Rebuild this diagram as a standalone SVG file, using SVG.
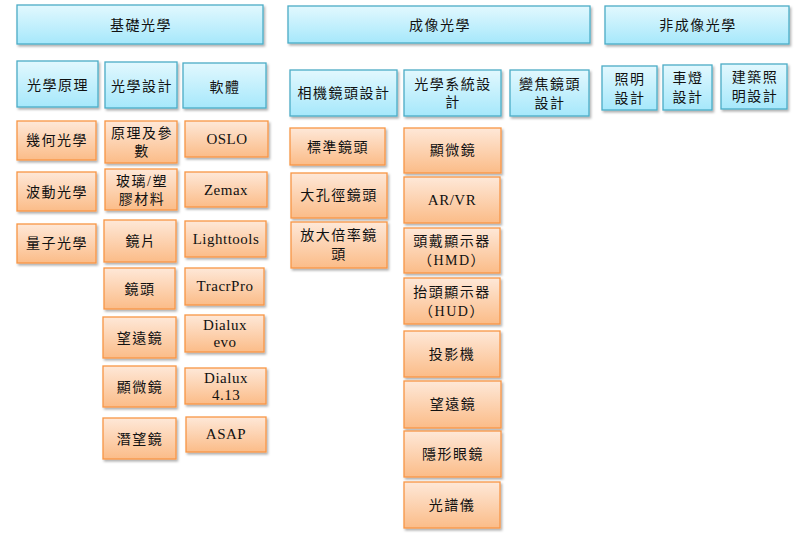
<svg xmlns="http://www.w3.org/2000/svg" width="800" height="549" viewBox="0 0 800 549">
<defs>
<linearGradient id="gb" x1="0" y1="0" x2="0" y2="1"><stop offset="0" stop-color="#e2f8fe"/><stop offset="1" stop-color="#a6e8fb"/></linearGradient>
<linearGradient id="go" x1="0" y1="0" x2="0" y2="1"><stop offset="0" stop-color="#fee8d8"/><stop offset="1" stop-color="#fbbc88"/></linearGradient>
<filter id="sh" x="-10%" y="-10%" width="130%" height="140%"><feDropShadow dx="1.5" dy="2" stdDeviation="1.2" flood-color="#000" flood-opacity="0.3"/></filter>
</defs>
<style>
.b{fill:url(#gb);stroke:#4bacc6;stroke-width:1.3;filter:url(#sh)}
.o{fill:url(#go);stroke:#f79646;stroke-width:1.3;filter:url(#sh)}
text{font-family:"Liberation Serif","Noto Sans CJK TC",serif;font-size:14px;fill:#111;text-anchor:middle;letter-spacing:1.5px}
.l{font-size:15px;letter-spacing:0.5px}
</style>
<rect width="800" height="549" fill="#fff"/>
<g id="connectors"/>
<!-- headers -->
<g id="h1"><rect class="b" x="17" y="5" width="246" height="39"/><text x="141" y="30">基礎光學</text></g>
<g id="h2"><rect class="b" x="288" y="6" width="302" height="37"/><text x="440" y="30">成像光學</text></g>
<g id="h3"><rect class="b" x="605" y="6" width="184" height="38"/><text x="698" y="30">非成像光學</text></g>
<!-- row 2 -->
<g id="n_principle"><rect class="b" x="17" y="61" width="81" height="46"/><text x="58" y="90">光學原理</text></g>
<g id="n_design"><rect class="b" x="105" y="62" width="72" height="46"/><text x="142" y="91">光學設計</text></g>
<g id="n_software"><rect class="b" x="183" y="63" width="83" height="45"/><text x="225" y="92">軟體</text></g>
<g id="n_camera"><rect class="b" x="290" y="70" width="107" height="46"/><text x="344" y="98">相機鏡頭設計</text></g>
<g id="n_system"><rect class="b" x="404" y="70" width="97" height="46"/><text x="453" y="89">光學系統設</text><text x="453" y="107">計</text></g>
<g id="n_zoom"><rect class="b" x="510" y="70" width="79" height="46"/><text x="550" y="89">變焦鏡頭</text><text x="550" y="108">設計</text></g>
<g id="n_light"><rect class="b" x="602" y="66" width="55" height="44"/><text x="630" y="84">照明</text><text x="630" y="103">設計</text></g>
<g id="n_car"><rect class="b" x="663" y="65" width="49" height="45"/><text x="688" y="83">車燈</text><text x="688" y="102">設計</text></g>
<g id="n_arch"><rect class="b" x="721" y="64" width="66" height="45"/><text x="755" y="82">建築照</text><text x="755" y="101">明設計</text></g>
<!-- col 1 -->
<g id="n_geo"><rect class="o" x="17" y="121" width="79" height="39"/><text x="57" y="145">幾何光學</text></g>
<g id="n_wave"><rect class="o" x="17" y="172" width="79" height="39"/><text x="57" y="197">波動光學</text></g>
<g id="n_quantum"><rect class="o" x="17" y="224" width="79" height="39"/><text x="57" y="248">量子光學</text></g>
<!-- col 2 -->
<g id="n_param"><rect class="o" x="105" y="121" width="72" height="42"/><text x="142" y="138">原理及參</text><text x="142" y="156">數</text></g>
<g id="n_glass"><rect class="o" x="105" y="169" width="72" height="41"/><text x="142" y="186">玻璃/塑</text><text x="142" y="204">膠材料</text></g>
<g id="n_lens"><rect class="o" x="104" y="220" width="72" height="42"/><text x="141" y="246">鏡片</text></g>
<g id="n_lenshead"><rect class="o" x="104" y="268" width="71" height="41"/><text x="140" y="294">鏡頭</text></g>
<g id="n_tele1"><rect class="o" x="103" y="317" width="73" height="41"/><text x="140" y="343">望遠鏡</text></g>
<g id="n_micro1"><rect class="o" x="103" y="366" width="73" height="41"/><text x="140" y="392">顯微鏡</text></g>
<g id="n_peri"><rect class="o" x="103" y="418" width="73" height="41"/><text x="140" y="444">潛望鏡</text></g>
<!-- col 3 -->
<g id="n_oslo"><rect class="o" x="185" y="121" width="83" height="36"/><text class="l" x="227" y="144">OSLO</text></g>
<g id="n_zemax"><rect class="o" x="185" y="172" width="82" height="35"/><text class="l" x="226" y="195">Zemax</text></g>
<g id="n_lighttools"><rect class="o" x="185" y="221" width="81" height="36"/><text class="l" x="226" y="244">Lighttools</text></g>
<g id="n_tracr"><rect class="o" x="185" y="268" width="79" height="37"/><text class="l" x="225" y="291">TracrPro</text></g>
<g id="n_evo"><rect class="o" x="185" y="315" width="79" height="37"/><text class="l" x="225" y="330">Dialux</text><text class="l" x="225" y="347">evo</text></g>
<g id="n_413"><rect class="o" x="185" y="368" width="81" height="36"/><text class="l" x="226" y="383">Dialux</text><text class="l" x="226" y="400">4.13</text></g>
<g id="n_asap"><rect class="o" x="186" y="417" width="80" height="35"/><text class="l" x="226" y="439">ASAP</text></g>
<!-- col 4 -->
<g id="n_std"><rect class="o" x="290" y="128" width="95" height="37"/><text x="338" y="152">標準鏡頭</text></g>
<g id="n_aperture"><rect class="o" x="291" y="173" width="96" height="45"/><text x="339" y="200">大孔徑鏡頭</text></g>
<g id="n_mag"><rect class="o" x="291" y="222" width="96" height="46"/><text x="339" y="240">放大倍率鏡</text><text x="339" y="259">頭</text></g>
<!-- col 5 -->
<g id="n_micro2"><rect class="o" x="404" y="128" width="97" height="45"/><text x="453" y="155">顯微鏡</text></g>
<g id="n_arvr"><rect class="o" x="404" y="177" width="96" height="46"/><text class="l" x="452" y="205">AR/VR</text></g>
<g id="n_hmd"><rect class="o" x="404" y="228" width="96" height="45"/><text x="452" y="246">頭戴顯示器</text><text x="452" y="265">（HMD）</text></g>
<g id="n_hud"><rect class="o" x="404" y="278" width="96" height="46"/><text x="452" y="297">抬頭顯示器</text><text x="452" y="316">（HUD）</text></g>
<g id="n_proj"><rect class="o" x="404" y="331" width="96" height="46"/><text x="452" y="359">投影機</text></g>
<g id="n_tele2"><rect class="o" x="404" y="381" width="97" height="47"/><text x="453" y="409">望遠鏡</text></g>
<g id="n_contact"><rect class="o" x="404" y="431" width="97" height="46"/><text x="453" y="459">隱形眼鏡</text></g>
<g id="n_spectro"><rect class="o" x="404" y="482" width="96" height="46"/><text x="452" y="510">光譜儀</text></g>
</svg>
